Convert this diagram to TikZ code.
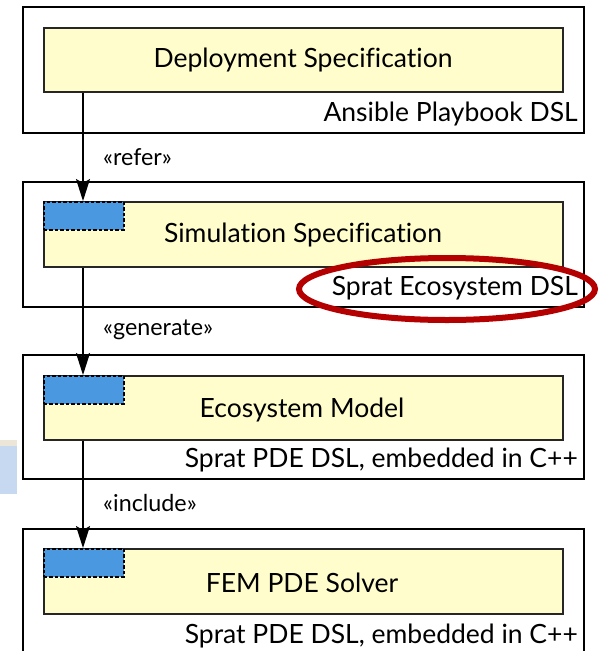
\documentclass[tikz,border=0pt]{standalone}
\usepackage{fontspec}
\setmainfont{Lato}[Ligatures={NoCommon}]
\usetikzlibrary{arrows.meta,shapes.geometric}
\definecolor{boxyellow}{HTML}{FEFDCB}
\definecolor{portblue}{HTML}{4A98E0}
\definecolor{ellred}{HTML}{B40000}
\definecolor{artblue}{HTML}{C6D9F1}
\definecolor{artbeige}{HTML}{ECE6D8}
\tikzset{
  outerbox/.style={draw=black, line width=1.8pt, fill=white, rectangle, inner sep=0pt, anchor=north west, minimum width=561pt},
  innerbox/.style={draw=black!85, line width=1.8pt, fill=boxyellow, rectangle, inner sep=0pt, anchor=north west, minimum width=519pt},
  portbox/.style={draw=black, dashed, dash pattern=on 3.5pt off 2pt, line width=1.5pt, fill=portblue, rectangle, inner sep=0pt, anchor=north west, minimum width=80pt, minimum height=28pt},
  maintext/.style={font=\fontsize{26.5}{30}\selectfont, inner sep=0pt},
  dsltext/.style={font=\fontsize{26.5}{30}\selectfont, inner sep=0pt, anchor=east},
  stereo/.style={font=\fontsize{23.3}{27}\selectfont, inner sep=0pt, anchor=west},
  conn/.style={draw=black, line width=1.5pt, -{Stealth[length=22pt,width=14pt,inset=4pt]}},
  hilite/.style={draw=ellred, line width=6pt, ellipse, inner sep=0pt, minimum width=296pt, minimum height=62pt}
}
\begin{document}
\begin{tikzpicture}[x=1pt,y=-1pt]
\useasboundingbox (0,0) rectangle (600,651);
\clip (0,0) rectangle (600,651);
% screenshot fragment at left
\fill[artblue] (0,445) rectangle (17,494);
\fill[artbeige] (0,440) rectangle (17,446);
% box 1
\node[outerbox, minimum height=126pt] (o1) at (22,6) {};
\node[innerbox, minimum height=64pt] (i1) at (43,27) {};
\node[maintext] (t1) at (303,60) {Deployment Specification};
\node[dsltext] (d1) at (578,114) {Ansible Playbook DSL};
% box 2
\node[outerbox, minimum height=125pt] (o2) at (22,181) {};
\node[innerbox, minimum height=65pt] (i2) at (43,201) {};
\node[portbox] (p2) at (43,201) {};
\node[maintext] (t2) at (303,235) {Simulation Specification};
\node[dsltext] (d2) at (578,288) {Sprat Ecosystem DSL};
% box 3
\node[outerbox, minimum height=124pt] (o3) at (22,354) {};
\node[innerbox, minimum height=64pt] (i3) at (43,375) {};
\node[portbox] (p3) at (43,375) {};
\node[maintext] (t3) at (302,410) {Ecosystem Model};
\node[dsltext] (d3) at (578,460) {Sprat PDE DSL, embedded in C++};
% box 4
\node[outerbox, minimum height=160pt] (o4) at (22,528) {};
\node[innerbox, minimum height=65pt] (i4) at (43,548) {};
\node[portbox] (p4) at (43,548) {};
\node[maintext] (t4) at (302,583) {FEM PDE Solver};
\node[dsltext] (d4) at (578,636) {Sprat PDE DSL, embedded in C++};
% connectors
\draw[conn] ([xshift=40pt]i1.south west) -- ([xshift=40pt]i2.north west);
\draw[conn] ([xshift=40pt]i2.south west) -- ([xshift=40pt]i3.north west);
\draw[conn] ([xshift=40pt]i3.south west) -- ([xshift=40pt]i4.north west);
\node[stereo] (s1) at (103,157) {«refer»};
\node[stereo] (s2) at (103,330) {«generate»};
\node[stereo] (s3) at (103,503) {«include»};
% highlight
\node[hilite] (e2) at (447,289) {};
\end{tikzpicture}
\end{document}
